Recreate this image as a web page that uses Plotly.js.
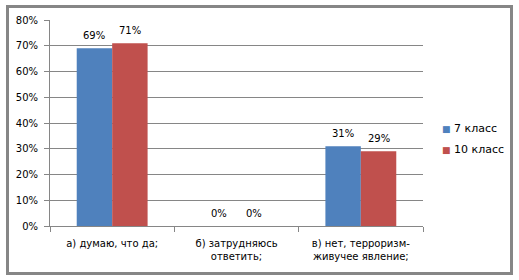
<!DOCTYPE html>
<html><head><meta charset="utf-8">
<script src="https://cdn.plot.ly/plotly-3.0.1.min.js"></script>
<style>
body{margin:0;background:#fff;}
#chart{position:absolute;left:0;top:0;width:519px;height:280px;}
#frame{position:absolute;left:6px;top:5px;width:501px;height:264px;border:3px solid #868686;pointer-events:none;}
</style></head>
<body>
<div id="chart"></div>
<div id="frame"></div>
<script>
const categories = ["а) думаю, что да;", "б) затрудняюсь<br>ответить;", "в) нет, терроризм-<br>живучее явление;"];
const seriesNames = ["7 класс", "10 класс"];
const grade7 = [0.69, 0.00, 0.31];
const grade10 = [0.71, 0.00, 0.29];
const colors = ["#4F81BD", "#C0504D"];
const font = "DejaVu Sans, Verdana, sans-serif";

const seriesValues = [grade7, grade10];
const bargap = 0.43;
const barFrac = (1 - bargap) / 2;

const traces = seriesValues.map((vals, i) => ({
  type: "bar",
  x: categories,
  y: vals,
  name: seriesNames[i],
  marker: {color: colors[i], line: {width: 0}},
  hoverinfo: "none"
}));

const annotations = [];
seriesValues.forEach((vals, s) => {
  vals.forEach((v, c) => {
    annotations.push({
      xref: "x", yref: "y",
      x: c + (s === 0 ? -barFrac / 2 : barFrac / 2),
      y: v,
      text: Math.round(v * 100) + "%",
      showarrow: false,
      yanchor: "bottom",
      yshift: 5,
      font: {family: font, size: 10, color: "#000"}
    });
  });
});
// legend built from series names and colours
seriesNames.forEach((name, i) => {
  annotations.push({
    xref: "paper", yref: "paper",
    x: 1.045, y: i === 0 ? 0.475 : 0.37,
    xanchor: "left", yanchor: "middle",
    showarrow: false,
    text: '<span style="color:' + colors[i] + ';font-size:9px">■</span> ' + name,
    font: {family: font, size: 11, color: "#000"}
  });
});

const layout = {
  width: 519, height: 280,
  margin: {l: 50, r: 96, t: 20, b: 54, autoexpand: false},
  paper_bgcolor: "#fff", plot_bgcolor: "#fff",
  font: {family: font, size: 10, color: "#000"},
  barmode: "group",
  bargap: bargap, bargroupgap: 0,
  showlegend: false,
  annotations: annotations,
  xaxis: {
    showgrid: false, showline: true, linecolor: "#868686", linewidth: 1,
    ticks: "outside", ticklen: 5, tickcolor: "#868686", tickson: "boundaries",
    ticklabelstandoff: 8,
    tickfont: {family: font, size: 10, color: "#000"}
  },
  yaxis: {
    range: [0, 0.8], dtick: 0.1, tickformat: ".0%",
    showgrid: true, gridcolor: "#868686", gridwidth: 1,
    showline: true, linecolor: "#868686", linewidth: 1,
    ticks: "outside", ticklen: 5, tickcolor: "#868686",
    ticklabelstandoff: 4,
    zeroline: false,
    tickfont: {family: font, size: 10, color: "#000"}
  }
};
Plotly.newPlot("chart", traces, layout, {staticPlot: true, displayModeBar: false});
</script>
</body></html>
